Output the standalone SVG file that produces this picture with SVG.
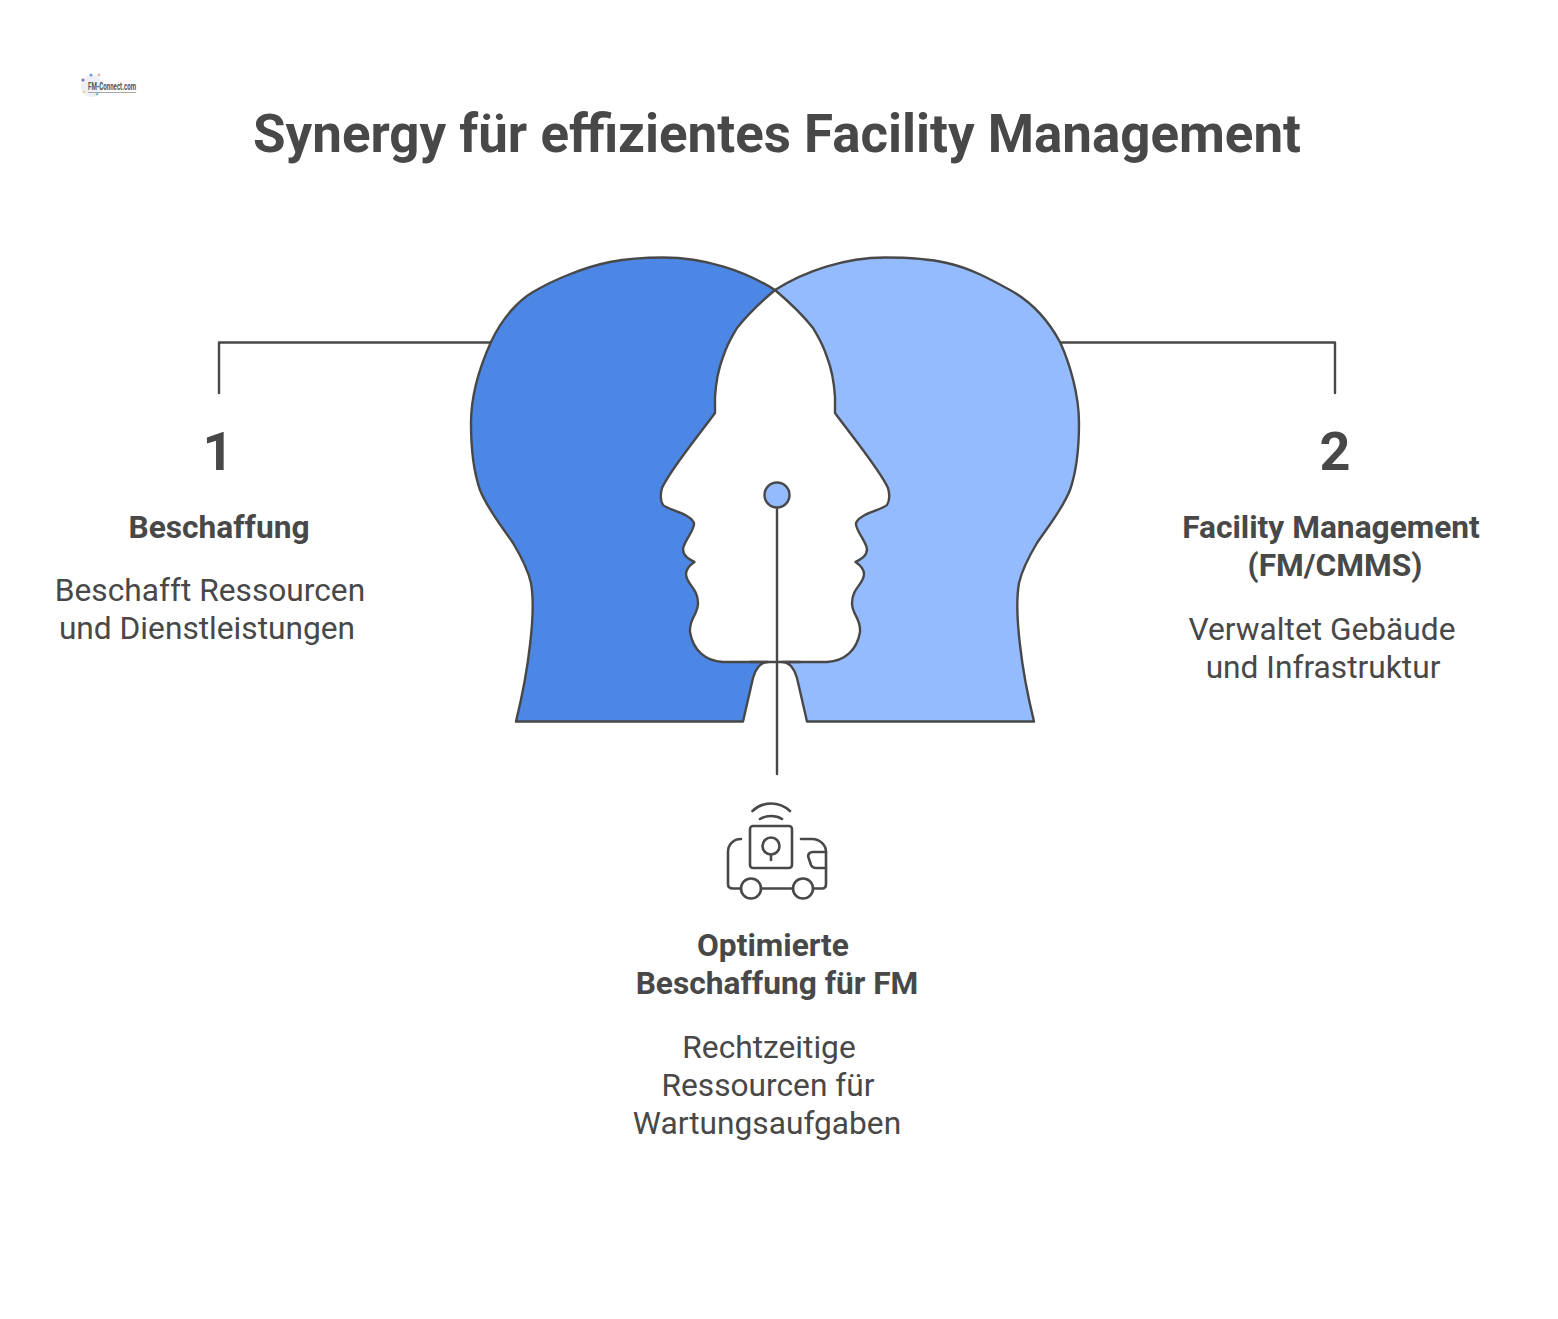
<svg xmlns="http://www.w3.org/2000/svg" width="1558" height="1319" viewBox="0 0 1558 1319">
<style>
text{font-family:Roboto,"Liberation Sans",sans-serif;fill:#484848;text-anchor:middle}
.t{font-size:52.9px;font-weight:700}
.n{font-size:54px;font-weight:700}
.h{font-size:31.7px;font-weight:700}
.b{font-size:31.7px;font-weight:400}
.s{stroke:#484848;stroke-width:2.4;fill:none;stroke-linejoin:round;stroke-linecap:round}
.i{stroke:#484848;stroke-width:2.6;fill:none;stroke-linecap:round;stroke-linejoin:round}
</style>
<rect width="1558" height="1319" fill="#fff"/>
<g id="logo">
<circle cx="92" cy="86" r="11" fill="#eef0f6"/>
<circle cx="83" cy="80" r="1.6" fill="#8a72c8"/><circle cx="91" cy="75" r="1.6" fill="#6fa0d8"/><circle cx="99" cy="75" r="1.4" fill="#e8b0b0"/><circle cx="84" cy="92" r="1.4" fill="#e8d890"/><circle cx="97" cy="94" r="1.4" fill="#80c0d8"/>
<text x="112" y="90" style="font-size:10.5px;font-weight:700;fill:#555" textLength="48" lengthAdjust="spacingAndGlyphs">FM-Connect.com</text>
<path d="M88 92.500H136" stroke="#aaa" stroke-width="1"/>
</g>
<text id="title" class="t" x="777" y="152">Synergy für effizientes Facility Management</text>
<g id="connectors">
<path class="s" d="M219 393V342.500H491"/>
<path class="s" d="M1335 393V342.500H1060"/>
</g>
<g id="head-left">
<path class="s" style="fill:#4d87e6" d="M775 290C745 271 705 257.500 663 257.500C640 257.500 628 258.500 610 262C585 267 555 279 533 292C520 299.700 503 316 491 342C481 364 471 395 471 423C471 445 473 470 480 490C488 510 503 528 513 543C522 558 528 570 531 583C534 600 533 620 530 645C527 672 522 697 516 721.500H743L753 678C755 670 760 662 768 662H723C705 661 693 650 690 632C689 618 698 615 698 603C698 588 686 584 686 574C686 570 690 565 694.500 562C689 559 683 556 683 549C684 541 695 530 694 523C690 513 668 510 663 505C660 500 660 495 662 488C670 470 695 440 715 413V397C716 380 718 370 723 357C728 342 733 335 737 328C748 314 762 301 775 290Z"/>
</g>
<g id="head-right">
<path class="s" style="fill:#95bbff" d="M775 290C805 271 845 257.500 885 257.500C910 257.500 930 259 947 263C970 268 990 279 1010 290C1032 302 1048 320 1060 342C1070 364 1079 395 1079 423C1079 445 1077 470 1070 490C1062 510 1047 528 1037 543C1028 558 1022 570 1019 583C1016 600 1017 620 1020 645C1023 672 1028 697 1034 721.500H807L797 678C795 670 790 662 782 662H827C845 661 857 650 860 632C861 618 852 615 852 603C852 588 864 584 864 574C864 570 860 565 855.500 562C861 559 867 556 867 549C866 541 855 530 856 523C860 513 882 510 887 505C890 500 890 495 888 488C880 470 855 440 835 413V397C834 380 832 370 827 357C822 342 817 335 813 328C802 314 788 301 775 290Z"/>
</g>
<g id="center-connector">
<path class="s" d="M777 507V774"/>
<path class="s" d="M750 662H800"/>
<circle cx="777" cy="495" r="12.500" fill="#95bbff" stroke="#484848" stroke-width="2.400"/>
</g>
<g id="icon">
<path class="i" d="M752.500 811C763 801 779 801 790 811M760 819C766 815 776 815 782 819"/>
<rect class="i" x="750" y="826" width="42" height="42" rx="3"/>
<circle class="i" cx="771" cy="846" r="8.500"/>
<path class="i" d="M771 855V860"/>
<path class="i" d="M741 839C733 839 728 845 728 852V884C728 887 730 888.500 733 888.500H741M761 888.500H793M813 888.500H822C825 888.500 826 887 826 884V852C826 845 820 839 812 839H801"/>
<path class="i" d="M826 852H813C809 852 807 855 809 859L811 865C812 867 813 868 816 868H826"/>
<circle class="i" cx="751" cy="888.500" r="10"/>
<circle class="i" cx="803" cy="888.500" r="10"/>
</g>
<g id="node-1">
<text class="n" x="218" y="470">1</text>
<text class="h" x="219" y="537.600">Beschaffung</text>
<text class="b" x="210" y="601.300">Beschafft Ressourcen</text>
<text class="b" x="207" y="639.300">und Dienstleistungen</text>
</g>
<g id="node-2">
<text class="n" x="1335" y="470">2</text>
<text class="h" x="1331" y="537.600">Facility Management</text>
<text class="h" x="1335" y="575.600">(FM/CMMS)</text>
<text class="b" x="1322" y="639.600">Verwaltet Gebäude</text>
<text class="b" x="1323" y="677.600">und Infrastruktur</text>
</g>
<g id="node-3">
<text class="h" x="773" y="955.600">Optimierte</text>
<text class="h" x="777" y="993.600">Beschaffung für FM</text>
<text class="b" x="769" y="1057.600">Rechtzeitige</text>
<text class="b" x="768" y="1095.600">Ressourcen für</text>
<text class="b" x="767" y="1133.600">Wartungsaufgaben</text>
</g>
</svg>
